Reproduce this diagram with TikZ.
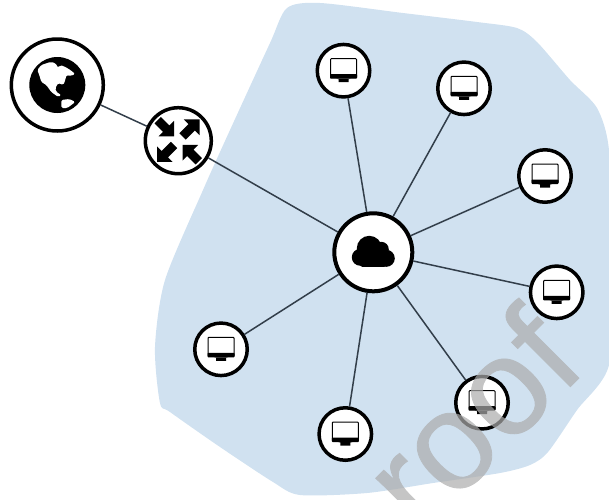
\documentclass[tikz,border=0pt]{standalone}
\usepackage{fontspec}
\setmainfont{Liberation Sans}
\newfontfamily\markingfont[FakeBold=0.6]{Liberation Sans}
\usepackage{tikz}
\usetikzlibrary{positioning}
\definecolor{myblue}{RGB}{208,225,240}
\definecolor{myline}{RGB}{50,62,74}
\definecolor{mygray}{RGB}{172,172,172}

% the small pictures inside the circles
\newcommand{\monitoricon}[1]{
	\begin{scope}[shift={(#1)}]
	\fill[black] (-7,8) -- (7,8) -- (5,8.5) -- (5,11.5) -- (-5,11.5) -- (-5,8.5) -- cycle;
	\draw[black,line width=1pt,fill=white,rounded corners=0.8pt] (-13,-12) rectangle (13,7);
	\fill[black,rounded corners=0.8pt] (-13.5,3.5) rectangle (13.5,8);
	\end{scope}
}
\newcommand{\cloudicon}[1]{
	\begin{scope}[shift={(#1)}]
	\fill[black] (-13,5) circle (8.5);
	\fill[black] (-4,-4) circle (12.5);
	\fill[black] (8,-3) circle (7.5);
	\fill[black] (13,6) circle (8.5);
	\fill[black,rounded corners=2pt] (-13,-2) rectangle (13,14.5);
	\end{scope}
}
\newcommand{\routerarrow}[2]{
	\begin{scope}[shift={(#1)},rotate=#2]
	\fill[black] (6,-4.5) -- (19,-4.5) -- (19,-11) -- (30,0) -- (19,11) -- (19,4.5) -- (6,4.5) -- cycle;
	\end{scope}
}
\newcommand{\routerarrowin}[2]{
	\begin{scope}[shift={(#1)},rotate=#2]
	\fill[black] (29,-4.5) -- (17,-4.5) -- (17,-11) -- (6,0) -- (17,11) -- (17,4.5) -- (29,4.5) -- cycle;
	\end{scope}
}
\newcommand{\globeicon}[1]{
	\begin{scope}[shift={(#1)}]
	\fill[black] (0,0) circle (28);
	\fill[white,rounded corners=1.5pt] (-20,-15) -- (-16,-20) -- (-7,-23) -- (-2,-22) -- (1,-17) -- (3,-20) -- (8,-18) -- (13,-15) -- (18,-11) -- (13,-9) -- (9,-10) -- (8,-5) -- (6,0) -- (1,-2) -- (-2,3) -- (-1,7) -- (4,10) -- (1,12) -- (-6,7) -- (-11,0) -- (-16,-3) -- (-18,-10) -- cycle;
	\fill[white,rounded corners=1.5pt] (4,15) -- (12,14) -- (18,17) -- (10,23) -- (4,23) -- cycle;
	\end{scope}
}

\begin{document}
\begin{tikzpicture}[x=1pt,y=-1pt,
	hostnode/.style={draw=black,circle,fill=white,line width=3.5pt,minimum size=52.5pt,inner sep=0pt},
	cloudnode/.style={hostnode,line width=4pt,minimum size=78pt},
	routernode/.style={hostnode,minimum size=66pt},
	globenode/.style={hostnode,minimum size=92pt},
	link/.style={draw=myline,line width=1.5pt},
	markingnode/.style={text=mygray,inner sep=0pt,rotate=45,anchor=base east,font=\markingfont\fontsize{138}{138}\selectfont},
	]
	\useasboundingbox (0,0) rectangle (609,499);
	
	% the shaded area
	\fill[myblue] plot[smooth cycle,tension=0.45] coordinates {(320,3) (403,13) (477,22) (517,28) (537,42) (570,80) (597,108) (609,150) (613,260) (609,365) (577,410) (548,452) (530,465) (500,473) (433,483) (367,493) (300,495) (273,482) (220,447) (170,412) (160,403) (155,347) (165,280) (203,190) (230,130) (270,43) (287,8)};
	
	% the hosts
	\foreach \i/\x/\y in {1/343.5/70.7,2/464/88.3,3/545/176,4/556.7/292.3,5/482/402.7,6/345.3/434,7/221/349.3}
	\node[hostnode] (m\i) at (\x,\y) {};
	
	% the centre and the way out
	\node[cloudnode] (cloud) at (373.3,252.3) {};
	\node[routernode] (router) at (178.3,140.7) {};
	\node[globenode] (globe) at (57.3,85) {};
	
	% the edges
	\foreach \i in {1,2,...,7}
	\draw[link] (cloud) -- (m\i);
	\draw[link] (cloud) -- (router);
	\draw[link] (router) -- (globe);
	
	% the icons
	\foreach \i in {1,2,...,7} {
	\monitoricon{m\i}
	}
	\cloudicon{cloud}
	\globeicon{globe}
	\routerarrow{router}{45}
	\routerarrow{router}{225}
	\routerarrowin{router}{135}
	\routerarrowin{router}{315}
	
	% the marking on top
	\begin{scope}[transparency group,opacity=0.7]
	\node[markingnode] (marking) at (589,368) {roof};
	\end{scope}
\end{tikzpicture}
\end{document}
